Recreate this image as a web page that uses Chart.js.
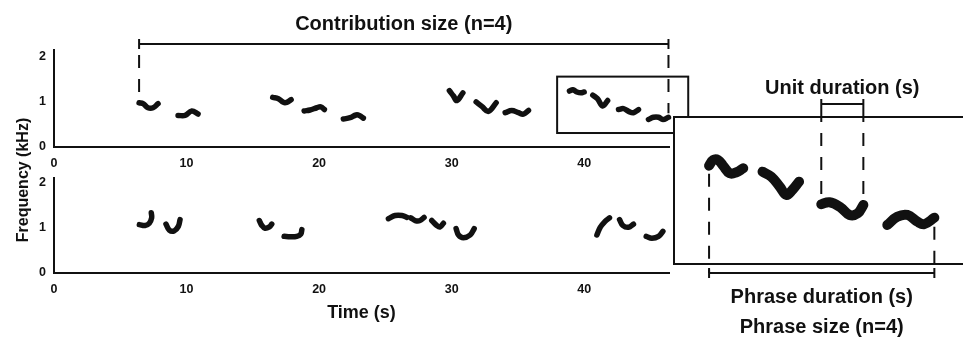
<!DOCTYPE html>
<html>
<head>
<meta charset="utf-8">
<script src="https://cdn.jsdelivr.net/npm/chart.js@4.4.1/dist/chart.umd.min.js"></script>
<style>
html, body { margin: 0; padding: 0; background: #fff; overflow: hidden; }
#wrap { position: relative; width: 963px; height: 337px; }
#wrap canvas { position: absolute; left: 0; top: 0; }
</style>
</head>
<body>
<div id="wrap">
  <canvas id="top_chart" width="963" height="337"></canvas>
  <canvas id="bottom_chart" width="963" height="337"></canvas>
  <canvas id="inset_chart" width="963" height="337"></canvas>
</div>
<script>
// song units: one inner array per unit, time (s) and frequency (kHz)
const topTimes = [
    [6.42, 6.72, 7.09, 7.47, 7.85],
    [9.36, 9.89, 10.39, 10.87],
    [16.5, 16.93, 17.31, 17.56, 17.89],
    [18.87, 19.32, 19.83, 20.13, 20.40],
    [21.83, 22.34, 22.79, 23.04, 23.34],
    [29.83, 30.14, 30.39, 30.85],
    [31.85, 32.28, 32.78, 33.36],
    [34.04, 34.54, 35.04, 35.42, 35.80],
    [38.89, 39.15, 39.45, 39.75, 40.0],
    [40.65, 41.0, 41.40, 41.77],
    [42.59, 42.97, 43.35, 43.72, 44.10],
    [44.85, 45.23, 45.61, 45.94, 46.36]
];
const topFreqs = [
    [0.98, 0.96, 0.87, 0.87, 0.96],
    [0.70, 0.70, 0.80, 0.73],
    [1.10, 1.07, 0.99, 0.99, 1.05],
    [0.80, 0.82, 0.87, 0.89, 0.83],
    [0.62, 0.65, 0.71, 0.70, 0.64],
    [1.25, 1.13, 1.03, 1.20],
    [1.00, 0.90, 0.79, 0.98],
    [0.76, 0.81, 0.76, 0.73, 0.81],
    [1.24, 1.27, 1.22, 1.20, 1.22],
    [1.15, 1.07, 0.91, 1.03],
    [0.83, 0.85, 0.79, 0.76, 0.83],
    [0.61, 0.66, 0.66, 0.61, 0.66]
];

const bottomTimes = [
    [6.44, 6.87, 7.19, 7.37, 7.34],
    [8.45, 8.70, 9.06, 9.38, 9.51],
    [15.49, 15.68, 15.92, 16.25, 16.43],
    [17.36, 17.81, 18.32, 18.62, 18.70],
    [25.23, 25.74, 26.25, 26.62],
    [26.92, 27.25, 27.62, 27.92],
    [28.50, 28.88, 29.13, 29.38],
    [30.34, 30.52, 30.89, 31.40, 31.70],
    [40.96, 41.21, 41.58, 41.91],
    [42.67, 42.92, 43.35, 43.72],
    [44.68, 45.11, 45.61, 45.94]
];
const bottomFreqs = [
    [1.07, 1.05, 1.10, 1.22, 1.33],
    [1.08, 0.95, 0.93, 1.03, 1.18],
    [1.16, 1.05, 0.99, 1.02, 1.08],
    [0.81, 0.80, 0.81, 0.86, 0.96],
    [1.20, 1.27, 1.27, 1.23],
    [1.22, 1.16, 1.16, 1.23],
    [1.16, 1.05, 1.02, 1.10],
    [0.98, 0.84, 0.78, 0.84, 0.98],
    [0.84, 1.01, 1.14, 1.22],
    [1.18, 1.05, 1.01, 1.08],
    [0.81, 0.77, 0.81, 0.92]
];

// the magnified phrase (last four units of the top song)
const insetTimes = [
    [39.16, 39.30, 39.47, 39.64, 39.87, 40.10, 40.33],
    [40.99, 41.29, 41.58, 41.81, 42.01, 42.24],
    [43.00, 43.28, 43.63, 43.97, 44.25, 44.44],
    [45.26, 45.60, 45.95, 46.29, 46.52, 46.87]
];
const insetFreqs = [
    [1.146, 1.194, 1.194, 1.146, 1.081, 1.09, 1.124],
    [1.095, 1.052, 0.967, 0.897, 0.939, 1.01],
    [0.818, 0.835, 0.797, 0.727, 0.741, 0.812],
    [0.642, 0.712, 0.727, 0.67, 0.648, 0.704]
];

const timeTicks = [0, 10, 20, 30, 40];
const freqTicks = [0, 1, 2];
const timeRange = [0, 46.4];
const topFreqRange = [0, 2.15];
const bottomFreqRange = [0, 2.1];
const zoomTime = [37.96, 47.85];   // box drawn round the phrase
const zoomFreq = [0.31, 1.56];

const INK = '#111';
const FONT = '"Liberation Sans", Arial, sans-serif';

function unitDatasets(times, freqs, width) {
    return times.map((ts, i) => ({
        data: ts.map((t, j) => ({ x: t, y: freqs[i][j] })),
        borderColor: INK,
        borderWidth: width,
        borderCapStyle: 'round',
        borderJoinStyle: 'round',
        pointRadius: 0,
        tension: 0.4,
        fill: false,
        clip: false
    }));
}

function axes(freqRange) {
    return {
        x: {
            type: 'linear', min: timeRange[0], max: timeRange[1],
            grid: { display: false, drawTicks: false },
            border: { display: true, color: INK, width: 2 },
            ticks: { color: INK, padding: 9, font: { family: FONT, size: 12.5, weight: 'bold' } },
            afterBuildTicks: s => { s.ticks = timeTicks.map(v => ({ value: v })); },
            afterFit: s => { s.height = 20; }
        },
        y: {
            type: 'linear', min: freqRange[0], max: freqRange[1],
            grid: { display: false, drawTicks: false },
            border: { display: true, color: INK, width: 2 },
            ticks: { color: INK, padding: 8, font: { family: FONT, size: 12.5, weight: 'bold' } },
            afterBuildTicks: s => { s.ticks = freqTicks.map(v => ({ value: v })); },
            afterFit: s => { s.width = 30; }
        }
    };
}

function hBracket(ctx, x0, x1, y) {
    ctx.save();
    ctx.strokeStyle = INK;
    ctx.lineWidth = 2;
    ctx.setLineDash([]);
    ctx.beginPath();
    ctx.moveTo(x0, y); ctx.lineTo(x1, y);
    ctx.moveTo(x0, y - 5); ctx.lineTo(x0, y + 5);
    ctx.moveTo(x1, y - 5); ctx.lineTo(x1, y + 5);
    ctx.stroke();
    ctx.restore();
}

function vDash(ctx, x, y0, y1, offset) {
    ctx.save();
    ctx.strokeStyle = INK;
    ctx.lineWidth = 2;
    ctx.setLineDash([13, 11]);
    ctx.lineDashOffset = offset || 0;
    ctx.beginPath();
    ctx.moveTo(x, y0); ctx.lineTo(x, y1);
    ctx.stroke();
    ctx.restore();
}

function label(ctx, text, x, y, size, rotate) {
    ctx.save();
    ctx.fillStyle = INK;
    ctx.font = 'bold ' + size + 'px ' + FONT;
    ctx.textAlign = 'center';
    ctx.textBaseline = 'middle';
    ctx.translate(x, y);
    if (rotate) ctx.rotate(-Math.PI / 2);
    ctx.fillText(text, 0, 0);
    ctx.restore();
}

const topNotes = {
    id: 'topNotes',
    afterDraw(chart) {
        const { ctx, chartArea } = chart;
        const xs = chart.scales.x, ys = chart.scales.y;
        const lastT = topTimes[topTimes.length - 1];
        const lastF = topFreqs[topFreqs.length - 1];
        const x0 = xs.getPixelForValue(topTimes[0][0]);
        const x1 = xs.getPixelForValue(lastT[lastT.length - 1]);
        const by = chartArea.top - 6;
        hBracket(ctx, x0, x1, by);
        vDash(ctx, x0, by, ys.getPixelForValue(topFreqs[0][0]) - 4, -11);
        vDash(ctx, x1, by, ys.getPixelForValue(lastF[lastF.length - 1]) - 4, -11);
        label(ctx, 'Contribution size (n=4)', (x0 + x1) / 2, 24, 20);

        const bx0 = xs.getPixelForValue(zoomTime[0]), bx1 = xs.getPixelForValue(zoomTime[1]);
        const by0 = ys.getPixelForValue(zoomFreq[1]), by1 = ys.getPixelForValue(zoomFreq[0]);
        ctx.save();
        ctx.strokeStyle = INK;
        ctx.lineWidth = 2;
        ctx.strokeRect(bx0, by0, bx1 - bx0, by1 - by0);
        ctx.restore();
    }
};

const bottomNotes = {
    id: 'bottomNotes',
    afterDraw(chart) {
        const { ctx, chartArea } = chart;
        label(ctx, 'Time (s)', (chartArea.left + chartArea.right) / 2, 313, 18);
        label(ctx, 'Frequency (kHz)', 24, 180, 16, true);
    }
};

const insetNotes = {
    id: 'insetNotes',
    beforeDatasetsDraw(chart) {
        const { ctx, chartArea } = chart;
        ctx.save();
        ctx.fillStyle = '#fff';
        ctx.fillRect(chartArea.left, chartArea.top, chart.width - chartArea.left + 10, chartArea.bottom - chartArea.top);
        ctx.strokeStyle = INK;
        ctx.lineWidth = 2;
        ctx.strokeRect(chartArea.left, chartArea.top, chart.width - chartArea.left + 10, chartArea.bottom - chartArea.top);
        ctx.restore();
    },
    afterDraw(chart) {
        const { ctx, chartArea } = chart;
        const xs = chart.scales.x, ys = chart.scales.y;

        // unit duration, third unit
        const ut = insetTimes[2], uf = insetFreqs[2];
        const ux0 = xs.getPixelForValue(ut[0]), ux1 = xs.getPixelForValue(ut[ut.length - 1]);
        const uy = chartArea.top - 13;
        hBracket(ctx, ux0, ux1, uy);
        vDash(ctx, ux0, uy + 5, ys.getPixelForValue(uf[0]) - 10);
        vDash(ctx, ux1, uy + 5, ys.getPixelForValue(uf[uf.length - 1]) - 10);
        label(ctx, 'Unit duration (s)', (ux0 + ux1) / 2, uy - 16, 20);

        // phrase duration, first to last unit
        const lt = insetTimes[insetTimes.length - 1], lf = insetFreqs[insetFreqs.length - 1];
        const px0 = xs.getPixelForValue(insetTimes[0][0]), px1 = xs.getPixelForValue(lt[lt.length - 1]);
        const py = chartArea.bottom + 9;
        hBracket(ctx, px0, px1, py);
        vDash(ctx, px0, ys.getPixelForValue(insetFreqs[0][0]) + 8, py);
        vDash(ctx, px1, ys.getPixelForValue(lf[lf.length - 1]) + 9, py);
        label(ctx, 'Phrase duration (s)', (px0 + px1) / 2, py + 24, 20);
        label(ctx, 'Phrase size (n=4)', (px0 + px1) / 2, py + 54, 20);
    }
};

const baseOptions = {
    responsive: false,
    animation: false,
    plugins: { legend: { display: false }, tooltip: { enabled: false } }
};

new Chart(document.getElementById('top_chart').getContext('2d'), {
    type: 'line',
    data: { datasets: unitDatasets(topTimes, topFreqs, 5.5) },
    options: {
        ...baseOptions,
        layout: { padding: { left: 24, top: 50, right: 294, bottom: 170 } },
        scales: axes(topFreqRange)
    },
    plugins: [topNotes]
});

new Chart(document.getElementById('bottom_chart').getContext('2d'), {
    type: 'line',
    data: { datasets: unitDatasets(bottomTimes, bottomFreqs, 5.5) },
    options: {
        ...baseOptions,
        layout: { padding: { left: 24, top: 178, right: 294, bottom: 44 } },
        scales: axes(bottomFreqRange)
    },
    plugins: [bottomNotes]
});

new Chart(document.getElementById('inset_chart').getContext('2d'), {
    type: 'line',
    data: { datasets: unitDatasets(insetTimes, insetFreqs, 10) },
    options: {
        ...baseOptions,
        layout: { padding: { left: 674, top: 117, right: 0, bottom: 73 } },
        scales: {
            x: { type: 'linear', display: false, min: zoomTime[0], max: zoomTime[1] },
            y: { type: 'linear', display: false, min: zoomFreq[0], max: zoomFreq[1] }
        }
    },
    plugins: [insetNotes]
});
</script>
</body>
</html>
